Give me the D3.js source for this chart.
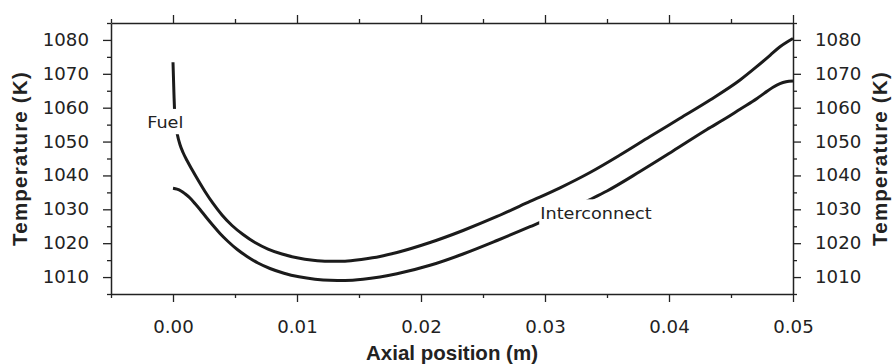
<!DOCTYPE html>
<html>
<head>
<meta charset="utf-8">
<script src="https://cdn.jsdelivr.net/npm/d3@7"></script>
<style>
  body { margin: 0; background: #fff; }
</style>
</head>
<body>
<svg id="chart" width="894" height="364"></svg>
<script>
// fuel channel temperature along the cell (m, K)
const fuelX = [0.00000, 0.00008, 0.00013, 0.00023, 0.00036, 0.00056, 0.00081, 0.00113, 0.00153, 0.00202,
  0.00258, 0.00323, 0.00395, 0.00476, 0.00565, 0.00661, 0.00766, 0.00879, 0.01000, 0.01129,
  0.01250, 0.01387, 0.01532, 0.01669, 0.01806, 0.02073, 0.02339, 0.02613, 0.02879, 0.03121,
  0.03363, 0.03605, 0.03847, 0.04089, 0.04331, 0.04573, 0.04707, 0.04815, 0.04895, 0.04952, 0.05000];
const fuelT = [1073.40, 1063.75, 1058.73, 1054.89, 1051.94, 1049.13, 1046.77, 1044.41, 1041.75, 1038.65,
  1035.26, 1031.72, 1028.32, 1025.22, 1022.56, 1020.20, 1018.28, 1016.81, 1015.69, 1014.95,
  1014.65, 1014.68, 1015.27, 1016.07, 1017.25, 1020.20, 1023.75, 1027.88, 1032.31, 1036.35,
  1040.87, 1046.03, 1051.49, 1056.87, 1062.27, 1068.17, 1072.10, 1075.46, 1078.00, 1079.39, 1080.42];

// interconnect temperature
const interX = [0.00000, 0.00032, 0.00065, 0.00097, 0.00137, 0.00177, 0.00218, 0.00266, 0.00323, 0.00379,
  0.00444, 0.00516, 0.00597, 0.00685, 0.00782, 0.00895, 0.01016, 0.01145, 0.01266, 0.01387,
  0.01532, 0.01669, 0.01806, 0.02073, 0.02339, 0.02613, 0.02879, 0.03121, 0.03363, 0.03500,
  0.03766, 0.04032, 0.04306, 0.04468, 0.04573, 0.04710, 0.04774, 0.04839, 0.04895, 0.04944, 0.05000];
const interT = [1036.20, 1035.94, 1035.41, 1034.58, 1033.34, 1031.72, 1029.94, 1027.73, 1025.22, 1022.86,
  1020.50, 1018.20, 1016.07, 1014.15, 1012.53, 1011.14, 1010.08, 1009.37, 1009.04, 1008.99,
  1009.34, 1010.02, 1010.96, 1013.47, 1016.81, 1020.79, 1024.87, 1028.70, 1032.90, 1035.41,
  1041.16, 1047.21, 1053.56, 1057.10, 1059.55, 1062.71, 1064.39, 1066.02, 1067.08, 1067.64, 1067.88];

const xMajor = [0.00, 0.01, 0.02, 0.03, 0.04, 0.05];
const xMinor = [-0.005, 0.005, 0.015, 0.025, 0.035, 0.045];
const yMajor = [1010, 1020, 1030, 1040, 1050, 1060, 1070, 1080];
const yMinor = [1005, 1015, 1025, 1035, 1045, 1055, 1065, 1075, 1085];

const margin = { top: 23, right: 101, bottom: 70, left: 111 };
const W = 894, H = 364;
const w = W - margin.left - margin.right;
const h = H - margin.top - margin.bottom;
const ink = '#222';
const tickFont = '"DejaVu Sans", Verdana, sans-serif';
const titleFont = '"Liberation Sans", Arial, sans-serif';
const sx = 1.07; // labels in the figure are slightly wide

const svg = d3.select('#chart');
const g = svg.append('g').attr('transform', `translate(${margin.left},${margin.top})`);

const x = d3.scaleLinear().domain([-0.005, 0.05]).range([0, w]);
const y = d3.scaleLinear().domain([1005, 1085]).range([h, 0]);

const stretchLabels = (sel) => {
  sel.selectAll('text').each(function () {
    const t = d3.select(this);
    const tx = +t.attr('x') || 0;
    t.attr('x', 0).attr('transform', `translate(${tx},0) scale(${sx},1)`);
  });
};

const styleAxis = (sel, showDomain) => {
  sel.selectAll('line').attr('stroke', ink).attr('stroke-width', 1.3);
  sel.select('.domain').attr('stroke', ink).attr('stroke-width', 1.5);
  if (!showDomain) sel.select('.domain').remove();
  sel.selectAll('text')
    .attr('fill', ink)
    .style('font-family', tickFont)
    .style('font-size', '17px');
};

const fmtX = d3.format('.2f');
const fmtY = d3.format('d');

// bottom
g.append('g').attr('transform', `translate(0,${h})`)
  .call(d3.axisBottom(x).tickValues(xMajor).tickSize(8).tickSizeOuter(0).tickPadding(19).tickFormat(fmtX))
  .call(s => styleAxis(s, true)).call(stretchLabels);
g.append('g').attr('transform', `translate(0,${h})`)
  .call(d3.axisBottom(x).tickValues(xMinor).tickSize(4).tickFormat(''))
  .call(s => styleAxis(s, false));
// top
g.append('g')
  .call(d3.axisTop(x).tickValues(xMajor).tickSize(8).tickSizeOuter(0).tickFormat(''))
  .call(s => styleAxis(s, true));
g.append('g')
  .call(d3.axisTop(x).tickValues(xMinor).tickSize(4).tickFormat(''))
  .call(s => styleAxis(s, false));
// left
g.append('g')
  .call(d3.axisLeft(y).tickValues(yMajor).tickSize(8).tickSizeOuter(0).tickPadding(14).tickFormat(fmtY))
  .call(s => styleAxis(s, true)).call(stretchLabels);
g.append('g')
  .call(d3.axisLeft(y).tickValues(yMinor).tickSize(4).tickFormat(''))
  .call(s => styleAxis(s, false));
// right
g.append('g').attr('transform', `translate(${w},0)`)
  .call(d3.axisRight(y).tickValues(yMajor).tickSize(8).tickSizeOuter(0).tickPadding(14).tickFormat(fmtY))
  .call(s => styleAxis(s, true)).call(stretchLabels);
g.append('g').attr('transform', `translate(${w},0)`)
  .call(d3.axisRight(y).tickValues(yMinor).tickSize(4).tickFormat(''))
  .call(s => styleAxis(s, false));

// curves
const line = d3.line()
  .x(d => x(d[0]))
  .y(d => y(d[1]))
  .curve(d3.curveMonotoneX);

const series = [
  d3.zip(fuelX, fuelT),
  d3.zip(interX, interT)
];
g.selectAll('path.curve')
  .data(series)
  .enter()
  .append('path')
  .attr('class', 'curve')
  .attr('d', line)
  .attr('fill', 'none')
  .attr('stroke', '#1b1b1b')
  .attr('stroke-width', 3)
  .attr('stroke-linecap', 'butt');

// in-line labels with white boxes that cut the curves
const labels = [
  { text: 'Fuel', x: -0.00062, y: 1053.9, anchor: 'middle' },
  { text: 'Interconnect', x: 0.02962, y: 1027.2, anchor: 'start' }
];
labels.forEach((l) => {
  const lg = g.append('g')
    .attr('transform', `translate(${x(l.x)},${y(l.y)}) scale(${sx},1)`);
  const box = lg.append('rect').attr('fill', '#fff');
  const t = lg.append('text')
    .attr('text-anchor', l.anchor)
    .attr('fill', ink)
    .style('font-family', tickFont)
    .style('font-size', '16.5px')
    .text(l.text);
  const bb = t.node().getBBox();
  box.attr('x', bb.x - 1).attr('y', bb.y - 4)
    .attr('width', bb.width + 2).attr('height', bb.height + 6);
});

// axis titles
svg.append('text')
  .attr('x', margin.left + w / 2)
  .attr('y', 359.5)
  .attr('text-anchor', 'middle')
  .attr('fill', ink)
  .style('font-family', titleFont)
  .style('font-weight', 'bold')
  .style('font-size', '20.5px')
  .text('Axial position (m)');

[27.4, 887].forEach((bx) => {
  svg.append('text')
    .attr('transform', `translate(${bx},${margin.top + h / 2}) rotate(-90)`)
    .attr('text-anchor', 'middle')
    .attr('fill', ink)
    .style('font-family', titleFont)
    .style('font-weight', 'bold')
    .style('font-size', '20.5px')
    .style('letter-spacing', '1.2px')
    .text('Temperature (K)');
});
</script>
</body>
</html>
